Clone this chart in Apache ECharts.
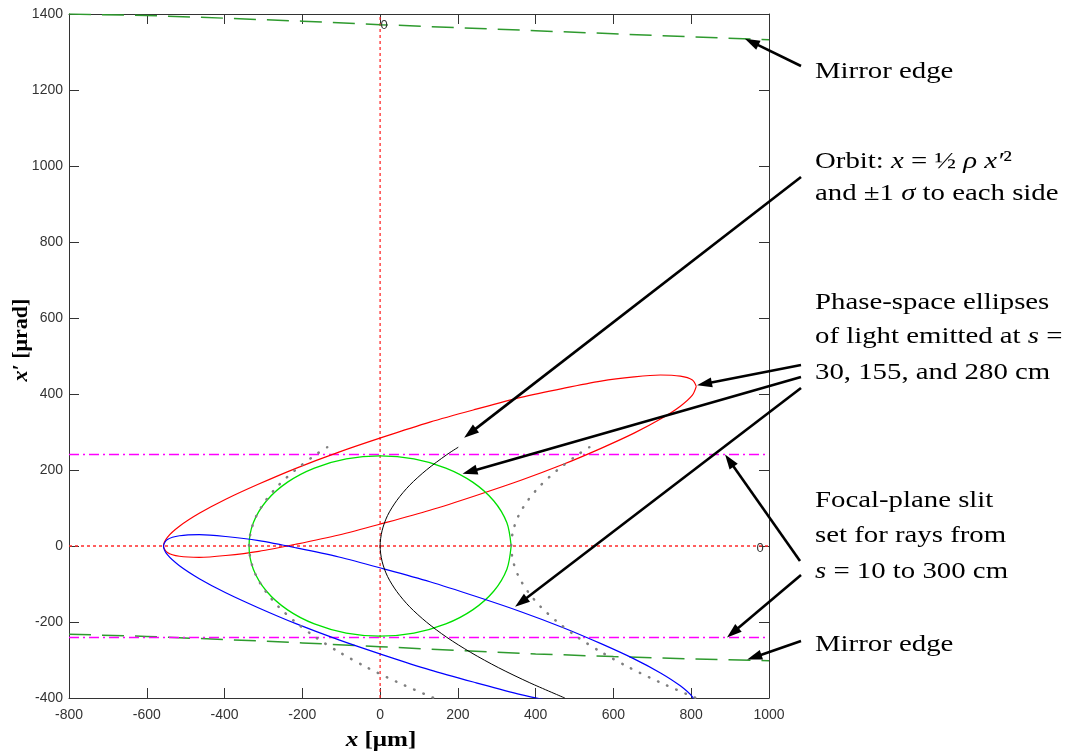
<!DOCTYPE html>
<html>
<head>
<meta charset="utf-8">
<script src="https://cdn.jsdelivr.net/npm/echarts@6/dist/echarts.min.js"></script>
<style>
  html, body { margin: 0; padding: 0; background: #fff; }
  #chart { width: 1074px; height: 755px; }
</style>
</head>
<body>
<div id="chart"></div>
<script>
// Axis ranges and tick spacing: x in µm, x' in µrad
const xRange = [-800, 1000];
const yRange = [-400, 1400];
const tickStep = 200;

// Mirror edges (upper and lower), [x, x']
const mirrorTop = [[-800, 1400], [-600, 1396], [-400, 1389], [-200, 1381], [0, 1372], [200, 1364], [400, 1356], [600, 1348], [800, 1340], [1000, 1332]];
const mirrorBottom = [[-800, -232], [-600, -238], [-400, -246], [-200, -255], [0, -265], [200, -275], [400, -284], [600, -291], [800, -297], [1000, -302]];

// Focal-plane slit acceptance in x'
const slitUpper = 241;
const slitLower = -241;

// Phase-space ellipses of light emitted at s = 30 (red), 155 (green), 280 cm (blue)
const ellipseRed = [[813, 420], [803, 437], [772, 447], [721, 450], [653, 445], [568, 434], [471, 415], [362, 391], [247, 360], [128, 326], [9, 287], [-106, 247], [-215, 205], [-312, 163], [-397, 123], [-465, 86], [-516, 52], [-547, 23], [-557, 0], [-547, -17], [-516, -27], [-465, -30], [-397, -25], [-312, -14], [-215, 5], [-106, 29], [9, 60], [128, 94], [247, 133], [362, 173], [471, 215], [568, 257], [653, 297], [721, 334], [772, 368], [803, 397], [813, 420]];
const ellipseGreen = [[337, 0], [326, 61], [292, 119], [238, 168], [169, 205], [87, 229], [0, 237], [-87, 229], [-169, 205], [-238, 168], [-292, 119], [-326, 61], [-337, 0], [-326, -61], [-292, -119], [-238, -168], [-169, -205], [-87, -229], [0, -237], [87, -229], [169, -205], [238, -168], [292, -119], [326, -61], [337, 0]];
const ellipseBlue = [[813, -420], [803, -437], [772, -447], [721, -450], [653, -445], [568, -434], [471, -415], [362, -391], [247, -360], [128, -326], [9, -287], [-106, -247], [-215, -205], [-312, -163], [-397, -123], [-465, -86], [-516, -52], [-547, -23], [-557, 0], [-547, 17], [-516, 27], [-465, 30], [-397, 25], [-312, 14], [-215, -5], [-106, -29], [9, -60], [128, -94], [247, -133], [362, -173], [471, -215], [568, -257], [653, -297], [721, -334], [772, -368], [803, -397], [813, -420]];

// Orbit x = ½ ρ x'^2 and the ±1σ curves on each side
const orbitY = [260, 240, 200, 160, 120, 80, 40, 0, -40, -80, -120, -160, -200, -240, -280, -320, -360, -400];
const orbitX = [201, 171, 119, 76, 43, 19, 5, 0, 5, 19, 43, 76, 119, 171, 233, 304, 385, 475];
const sigmaLeftX = [-136, -166, -218, -261, -294, -318, -332, -337, -332, -318, -294, -261, -218, -166, -104, -33, 48, 138];
const sigmaRightX = [538, 508, 456, 413, 380, 356, 342, 337, 342, 356, 380, 413, 456, 508, 570, 641, 722, 812];

const zip = (xs, ys) => xs.map((x, i) => [x, ys[i]]);

const chart = echarts.init(document.getElementById('chart'), null, { renderer: 'canvas' });

const FRAME = '#333';
const SANS = '"Liberation Sans", Arial, sans-serif';
const SERIF = '"Liberation Serif", "Times New Roman", serif';

function curve(name, data, color, width, type, smooth, extraStyle) {
  return {
    name, type: 'line', data, smooth: smooth || false, showSymbol: false, symbol: 'none',
    xAxisIndex: 0, yAxisIndex: 0, silent: true, clip: true,
    lineStyle: Object.assign({ color, width, type }, extraStyle || {})
  };
}

function frameAxis(pos, isX, showLabels) {
  const range = isX ? xRange : yRange;
  return {
    type: 'value', position: pos, min: range[0], max: range[1], interval: tickStep,
    axisLine: { show: true, onZero: false, lineStyle: { color: FRAME, width: 1 } },
    axisTick: { show: true, inside: true, length: 10, lineStyle: { color: FRAME, width: 1 } },
    axisLabel: showLabels ? {
      show: true, color: '#333', fontFamily: SANS, fontSize: 14,
      margin: isX ? 10 : 6, showMinLabel: true, showMaxLabel: true,
      formatter: v => String(v)
    } : { show: false },
    splitLine: { show: false }
  };
}

chart.setOption({
  animation: false,
  backgroundColor: '#fff',
  grid: { left: 69, top: 14, width: 700, height: 684, containLabel: false },
  xAxis: [frameAxis('bottom', true, true), frameAxis('top', true, false)],
  yAxis: [frameAxis('left', false, true), frameAxis('right', false, false)],
  series: [
    curve('x = 0', [[0, yRange[0]], [0, yRange[1]]], '#ff2a2a', 1.3, [3, 3]),
    curve("x' = 0", [[xRange[0], 0], [xRange[1], 0]], '#ff2a2a', 1.3, [3, 3]),
    curve('Mirror edge (upper)', mirrorTop, '#2e9a2e', 1.5, [22, 11]),
    curve('Mirror edge (lower)', mirrorBottom, '#2e9a2e', 1.5, [22, 11]),
    curve('Slit upper', [[xRange[0], slitUpper], [xRange[1], slitUpper]], '#ff00ff', 1.5, [10, 4, 2, 4]),
    curve('Slit lower', [[xRange[0], slitLower], [xRange[1], slitLower]], '#ff00ff', 1.5, [10, 4, 2, 4]),
    curve('s = 30 cm', ellipseRed, '#ff0000', 1.2, 'solid', 0.3),
    curve('s = 155 cm', ellipseGreen, '#00e000', 1.3, 'solid', 0.3),
    curve('s = 280 cm', ellipseBlue, '#0000ff', 1.2, 'solid', 0.3),
    curve('Orbit', zip(orbitX, orbitY), '#000000', 1, 'solid', 0.3),
    curve('Orbit - 1σ', zip(sigmaLeftX, orbitY), '#808080', 2.5, [0.5, 9.5], 0.3, { cap: 'round' }),
    curve('Orbit + 1σ', zip(sigmaRightX, orbitY), '#808080', 2.5, [0.5, 9.5], 0.3, { cap: 'round' })
  ]
});

// ---- annotations: callout arrows and text ----
const toPx = p => chart.convertToPixel({ xAxisIndex: 0, yAxisIndex: 0 }, p);

// Arrow tails sit next to the callout text; heads point at the marks (data coordinates)
const arrows = [
  { tail: [801, 66], tip: [938, 1335] },
  { tail: [801, 177], tip: [216, 285] },
  { tail: [801, 365], tip: [815, 423] },
  { tail: [801, 377], tip: [212, 190] },
  { tail: [801, 388], tip: [347, -160] },
  { tail: [800, 561], tip: [887, 241] },
  { tail: [801, 575], tip: [892, -241] },
  { tail: [801, 641], tip: [944, -299] }
];

const notes = [
  { y: 71.5, text: 'Mirror edge' },
  { y: 161.5, text: 'Orbit: {i|x} = ½ {i|ρ x′}²' },
  { y: 193.5, text: 'and ±1 {i|σ} to each side' },
  { y: 303, text: 'Phase-space ellipses' },
  { y: 336.5, text: 'of light emitted at {i|s} =' },
  { y: 372.5, text: '30, 155, and 280 cm' },
  { y: 501, text: 'Focal-plane slit' },
  { y: 536, text: 'set for rays from' },
  { y: 571.5, text: '{i|s} = 10 to 300 cm' },
  { y: 645, text: 'Mirror edge' }
];

function arrowElements(tail, tipData) {
  const tip = toPx(tipData);
  const dx = tip[0] - tail[0], dy = tip[1] - tail[1];
  const len = Math.hypot(dx, dy);
  const ux = dx / len, uy = dy / len;
  const head = 15, half = 5;
  const bx = tip[0] - ux * head, by = tip[1] - uy * head;
  return [
    { type: 'line', silent: true, z: 100,
      shape: { x1: tail[0], y1: tail[1], x2: bx + ux * 3, y2: by + uy * 3 },
      style: { stroke: '#000', lineWidth: 2.6 } },
    { type: 'polygon', silent: true, z: 100,
      shape: { points: [[tip[0], tip[1]], [bx - uy * half, by + ux * half], [bx + uy * half, by - ux * half]] },
      style: { fill: '#000' } }
  ];
}

const graphics = [];
arrows.forEach(a => graphics.push(...arrowElements(a.tail, a.tip)));

notes.forEach(n => graphics.push({
  type: 'text', x: 815, y: n.y, scaleX: 1.2, silent: true, z: 100,
  style: {
    text: n.text, fill: '#000', font: '24px ' + SERIF, verticalAlign: 'middle', align: 'left',
    rich: { i: { fontStyle: 'italic', fontFamily: SERIF, fontSize: 24, fill: '#000' } }
  }
}));

// "0" markers where the zero lines meet the frame
const topZero = toPx([0, yRange[1]]);
const rightZero = toPx([xRange[1], 0]);
graphics.push(
  { type: 'text', x: topZero[0] + 4, y: topZero[1] + 11, silent: true, z: 90,
    style: { text: '0', fill: '#333', font: '13px ' + SANS, align: 'center', verticalAlign: 'middle' } },
  { type: 'text', x: rightZero[0] - 9, y: rightZero[1] + 2, silent: true, z: 90,
    style: { text: '0', fill: '#333', font: '13px ' + SANS, align: 'center', verticalAlign: 'middle' } }
);

// Axis titles
graphics.push(
  { type: 'text', x: 381, y: 740, scaleX: 1.14, silent: true,
    style: { text: '{bi|x} [μm]', fill: '#000', font: 'bold 22px ' + SERIF, align: 'center', verticalAlign: 'middle',
      rich: { bi: { fontStyle: 'italic', fontWeight: 'bold', fontFamily: SERIF, fontSize: 22, fill: '#000' } } } },
  { type: 'text', x: 21, y: 340, rotation: Math.PI / 2, silent: true,
    style: { text: '{bi|x′} [μrad]', fill: '#000', font: 'bold 22px ' + SERIF, align: 'center', verticalAlign: 'middle',
      rich: { bi: { fontStyle: 'italic', fontWeight: 'bold', fontFamily: SERIF, fontSize: 22, fill: '#000' } } } }
);

chart.setOption({ graphic: graphics });
</script>
</body>
</html>
